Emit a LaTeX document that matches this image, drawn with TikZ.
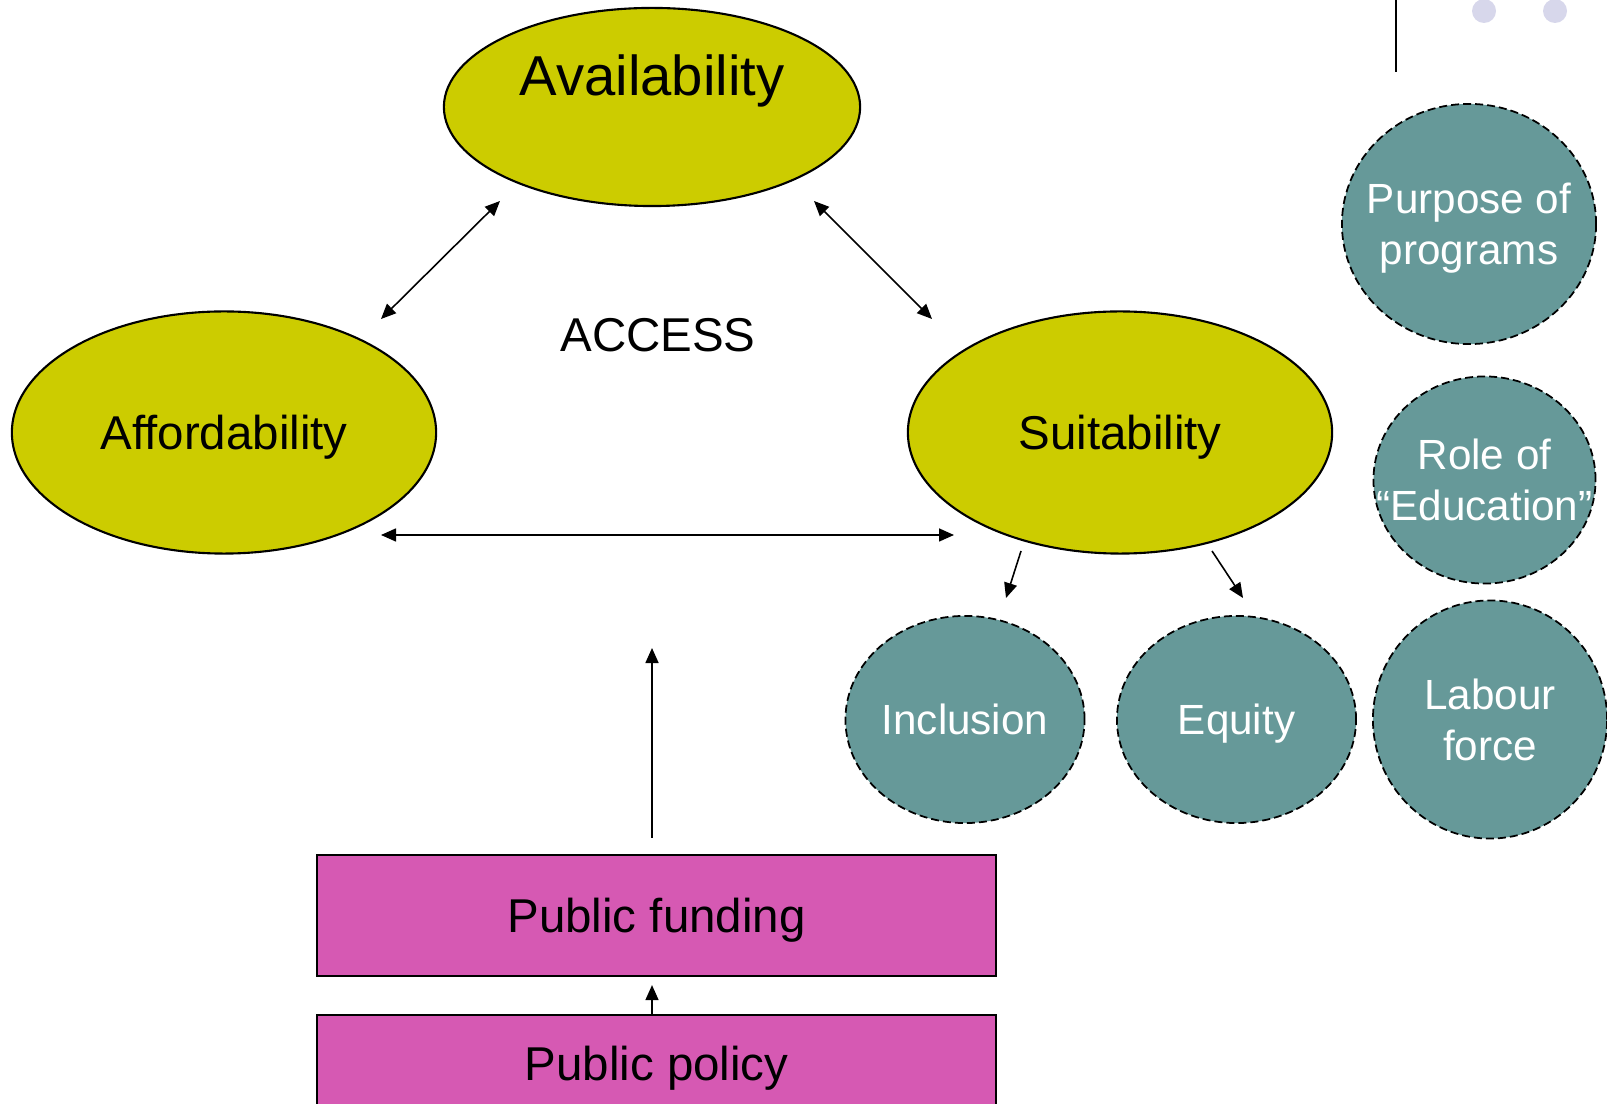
\documentclass[tikz,border=0pt]{standalone}
\usepackage{fontspec}
\setmainfont{Liberation Sans}
\usetikzlibrary{shapes.geometric,arrows.meta}
\definecolor{blobyellow}{HTML}{CCCC00}
\definecolor{blobteal}{HTML}{669999}
\definecolor{boxpink}{HTML}{D659B3}
\definecolor{dotlilac}{HTML}{D7D7EB}

\begin{document}
\begin{tikzpicture}[x=0.01cm,y=-0.01cm,
    yellowblob/.style={ellipse,draw,line width=0.6pt,fill=blobyellow,inner sep=0pt},
    tealblob/.style={ellipse,draw,dash pattern=on 0.8mm off 0.4mm,line width=0.5pt,fill=blobteal,inner sep=0pt},
    pinkbox/.style={rectangle,draw,line width=0.6pt,fill=boxpink,inner sep=0pt,text depth=0pt,
      minimum width=6.79cm,font=\fontsize{13.5}{16}\selectfont},
    maintext/.style={font=\fontsize{13.5}{16}\selectfont,text depth=0pt},
    tealtext/.style={font=\fontsize{12}{14.5}\selectfont,text=white,align=center,text depth=0pt},
    arr/.style={{Triangle[length=1.5mm,width=1.3mm]}-{Triangle[length=1.5mm,width=1.3mm]},line width=0.45pt},
    onearr/.style={-{Triangle[length=1.5mm,width=1.3mm]},line width=0.45pt}]
  \clip (0,0) rectangle (1607,1104);

  \draw[line width=0.6pt] (1396,0) -- (1396,72);
  \fill[dotlilac] (1484,11) circle (0.12cm);
  \fill[dotlilac] (1555,11) circle (0.12cm);

  \node[yellowblob,minimum width=4.16cm,minimum height=1.98cm,
    label={[font=\fontsize{16}{19}\selectfont,text depth=0pt,yshift=0.32cm]center:Availability}]
    (avail) at (652,107) {};
  \node[yellowblob,minimum width=4.24cm,minimum height=2.42cm,
    label={[maintext]center:Affordability}]
    (afford) at (224,432.5) {};
  \node[yellowblob,minimum width=4.24cm,minimum height=2.42cm,
    label={[maintext]center:Suitability}]
    (suit) at (1120,432.5) {};
  \node[maintext] (access) at (658,335) {ACCESS};

  \node[tealblob,minimum width=2.54cm,minimum height=2.40cm,
    label={[tealtext]center:Purpose of\\programs}]
    (purpose) at (1469,224) {};
  \node[tealblob,minimum width=2.22cm,minimum height=2.07cm,
    label={[tealtext]center:Role of\\“Education”}]
    (role) at (1484.5,480) {};
  \node[tealblob,minimum width=2.39cm,minimum height=2.07cm,
    label={[tealtext]center:Inclusion}]
    (incl) at (965,719.5) {};
  \node[tealblob,minimum width=2.39cm,minimum height=2.07cm,
    label={[tealtext]center:Equity}]
    (equity) at (1236.5,719.5) {};
  \node[tealblob,minimum width=2.34cm,minimum height=2.38cm,
    label={[tealtext]center:Labour\\force}]
    (labour) at (1490,719.5) {};

  \node[pinkbox,minimum height=1.21cm] (fund) at (656.5,915.5) {Public funding};
  \node[pinkbox,minimum height=0.96cm] (policy) at (656.5,1063) {Public policy};

  \coordinate (avail-sw) at (500,201);
  \coordinate (afford-ne) at (381,319);
  \coordinate (avail-se) at (814,201);
  \coordinate (suit-nw) at (932,319);
  \coordinate (afford-e) at (381,535);
  \coordinate (suit-w) at (954,535);
  \coordinate (suit-sw) at (1021,551);
  \coordinate (incl-n) at (1006,598);
  \coordinate (suit-se) at (1212,551);
  \coordinate (equity-n) at (1243,598);
  \coordinate (uptip) at (652,648);

  \draw[arr] (avail-sw) -- (afford-ne);
  \draw[arr] (avail-se) -- (suit-nw);
  \draw[arr] (afford-e) -- (suit-w);
  \draw[onearr] (suit-sw) -- (incl-n);
  \draw[onearr] (suit-se) -- (equity-n);
  \draw[onearr,shorten <=0.16cm] (fund.north -| uptip) -- (uptip);
  \draw[onearr,shorten >=0.08cm] (policy.north -| uptip) -- (fund.south -| uptip);
\end{tikzpicture}
\end{document}
